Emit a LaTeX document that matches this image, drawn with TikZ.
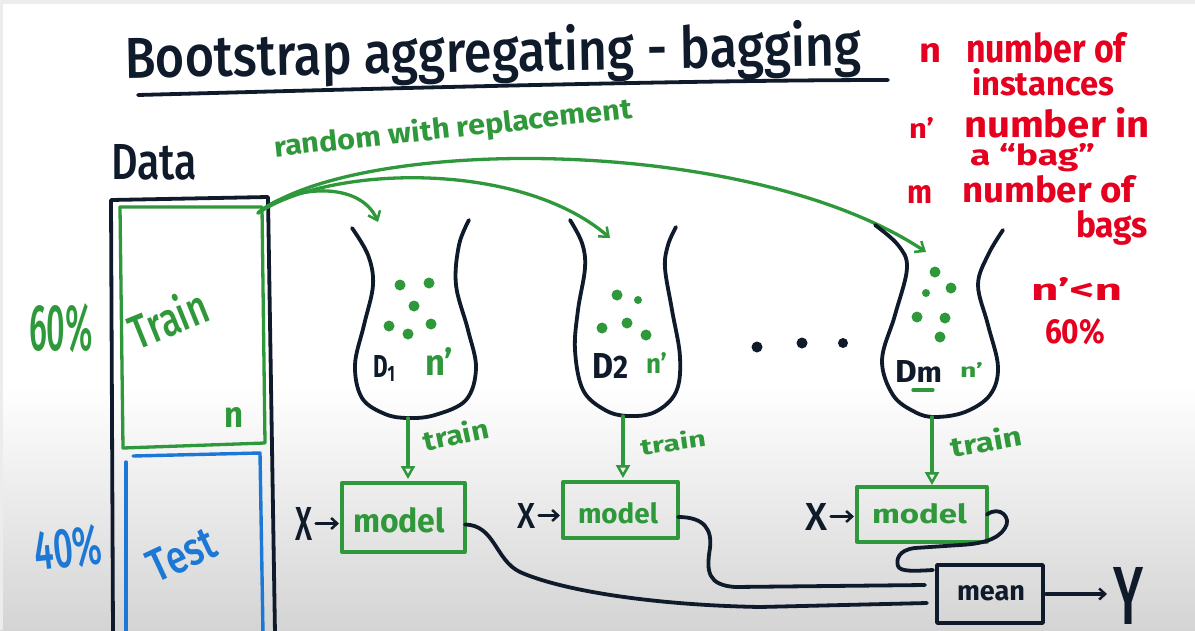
\documentclass[tikz,border=0pt]{standalone}
\usepackage{fontspec}
\setmainfont{Fira Sans}
\newfontfamily\firamed{Fira Sans Medium}
\usepackage{graphicx}
\usetikzlibrary{arrows.meta}
\definecolor{ink}{RGB}{15,26,43}
\definecolor{gink}{RGB}{47,152,58}
\definecolor{bink}{RGB}{28,120,212}
\definecolor{rink}{RGB}{228,0,30}
\definecolor{bggray}{RGB}{212,212,212}
\definecolor{edgegray}{RGB}{236,236,236}
\newcommand{\hw}[3]{\resizebox{#1pt}{#2pt}{#3}}
\begin{document}
\begin{tikzpicture}[x=1pt,y=-1pt,
  txt/.style={inner sep=0pt, outer sep=0pt, anchor=base west, font=\bfseries},
  ctxt/.style={inner sep=0pt, outer sep=0pt, font=\bfseries},
  big/.style={font=\firamed},
  inkline/.style={draw=ink, line width=3.8pt, line cap=round, line join=round},
  gline/.style={draw=gink, line width=3.3pt, line cap=round, line join=round},
  bline/.style={draw=bink, line width=3.4pt, line cap=round, line join=round},
  rbox/.style={inner sep=0pt, outer sep=0pt, line width=3.3pt, line join=round},
  garrow/.style={gline, -{Triangle[open, length=13pt, width=14pt, line width=2.5pt]}},
  sarrow/.style={gline, -{Straight Barb[length=8pt, width=13pt, line width=2.5pt]}},
  karrow/.style={inkline, line width=3.2pt, -{Straight Barb[length=6pt, width=11pt, line width=2.5pt]}},
  dot/.style={fill=gink}]
\useasboundingbox (0,0) rectangle (1195,630);
% background
\fill[white] (0,0) rectangle (1195,630);
\shade[top color=white, bottom color=bggray] (0,385) rectangle (1195,630);
\fill[edgegray] (0,0) rectangle (1195,4);
\fill[edgegray] (0,0) rectangle (3,630);

% title
\node[txt, big, text=ink, rotate=1] (title) at (125,78) {\hw{737}{46}{Bootstrap aggregating - bagging}};
\draw[inkline] (138,95) .. controls (400,88) and (700,80) .. (888,80);

% legend
\node[txt,text=rink] (ln) at (919,62) {\hw{22}{19}{n}};
\node[txt,text=rink] (lnd) at (966,62) {\hw{160}{30}{number of}};
\node[txt,text=rink] (lni) at (972,95) {\hw{142}{27}{instances}};
\node[txt,text=rink] (lnp) at (909,138) {\hw{25}{21}{n'}};
\node[txt,text=rink] (lnpd) at (964,137) {\hw{186}{30}{number in}};
\node[txt,text=rink] (lbag) at (970,165) {\hw{125}{22}{a “bag”}};
\node[txt,text=rink] (lm) at (907,203) {\hw{25}{18}{m}};
\node[txt,text=rink] (lmd) at (962,202) {\hw{173}{27}{number of}};
\node[txt,text=rink] (lbags) at (1076,237) {\hw{72}{27}{bags}};
\node[txt,text=rink] (lineq) at (1031,300) {\hw{91}{23}{n'<n}};
\node[txt,text=rink] (lpct) at (1045,343) {\hw{60}{25}{60\%}};

% data column
\node[txt,big,text=ink] (data) at (111,179) {\hw{86}{35}{Data}};
\draw[inkline] (113,634) -- (111,200) -- (268,197) -- (275,634);
\draw[gline] (120,207) -- (262,207) -- (265,443) -- (123,448) -- cycle;
\draw[bline] (126,634) -- (126,462);
\draw[bline] (133,456) -- (260,453) -- (263,634);
\node[ctxt,big,text=gink,rotate=22] (train) at (168,318) {\hw{80}{38}{Train}};
\node[txt,text=gink] (ntr) at (224,427) {\hw{19}{20}{n}};
\node[txt,big,text=gink] (p60) at (29,350) {\hw{64}{47}{60\%}};
\node[ctxt,big,text=bink,rotate=6] (p40) at (68,548) {\hw{68}{40}{40\%}};
\node[ctxt,big,text=bink,rotate=25] (test) at (182,555) {\hw{70}{32}{Test}};

% sampling
\node[txt,text=gink,rotate=6.2] (rwr) at (275,157) {\hw{360}{23}{random with replacement}};
\coordinate (src) at (258,213);
\coordinate (t1) at (378,222);
\coordinate (t2) at (610,238);
\coordinate (t3) at (926,252);
\draw[sarrow] (src) .. controls (290,185) and (360,180) .. (t1);
\draw[sarrow] (src) .. controls (330,165) and (520,160) .. (t2);
\draw[sarrow] (src) .. controls (360,135) and (750,135) .. (t3);

% bags
\draw[inkline] plot[smooth, tension=0.6] coordinates {(352,228) (368,255) (373,285) (364,325) (355,365) (362,398) (385,414) (408,418) (435,415) (466,400) (476,368) (468,330) (456,285) (459,245) (469,220)};
\draw[inkline] plot[smooth, tension=0.6] coordinates {(570,220) (582,243) (585,268) (578,310) (575,350) (583,390) (605,410) (628,416) (655,412) (676,392) (680,357) (672,310) (665,268) (668,245) (676,227)};
\draw[inkline] plot[smooth, tension=0.6] coordinates {(875,225) (898,245) (907,268) (895,315) (882,360) (893,395) (915,412) (935,417) (965,412) (990,395) (998,367) (988,325) (978,285) (988,255) (1003,230)};
\coordinate (b1bot) at (408,418);
\coordinate (b2bot) at (623,416);
\coordinate (b3bot) at (932,417);

% dots
\foreach \p in {(400,285),(429,283),(414,306),(389,326),(408,334),(431,324),
                (617,295),(602,328),(627,323),(646,335),
                (935,272),(951,288),(917,317),(945,318),(940,337)}
  \fill[dot] \p circle (5.5);
\fill[dot] (638,300) circle (4);
\fill[dot] (926,293) circle (4);

% bag labels
\node[txt,text=ink] (d1) at (373,377) {\hw{23}{22}{D\textsubscript{1}}};
\node[txt,text=gink] (n1) at (425,375) {\hw{28}{28}{n'}};
\node[txt,text=ink] (d2) at (592,378) {\hw{36}{25}{D{\small 2}}};
\node[txt,text=gink] (n2) at (646,373) {\hw{21}{21}{n'}};
\node[txt,text=ink] (d3) at (895,382) {\hw{47}{22}{D{\small m}}};
\draw[gline] (913,390) -- (933,390);
\node[txt,text=gink] (n3) at (960,377) {\hw{23}{15}{n'}};

% ellipsis
\fill[ink] (757,347) circle (5.5);
\fill[ink] (802,343) circle (5.5);
\fill[ink] (843,343) circle (5);

% model boxes
\node[rbox, draw=gink, minimum width=123pt, minimum height=69pt] (m1) at (403.5,517.5) {};
\node[rbox, draw=gink, minimum width=115pt, minimum height=56pt] (m2) at (620.5,510) {};
\node[rbox, draw=gink, minimum width=130pt, minimum height=55pt] (m3) at (922,514.5) {};
\node[txt,text=gink] (m1t) at (353,532) {\hw{92}{25}{model}};
\node[txt,text=gink] (m2t) at (578,523) {\hw{80}{21}{model}};
\node[txt,text=gink] (m3t) at (872,523) {\hw{95}{20}{model}};

% train arrows
\draw[garrow, shorten >=4pt] (b1bot) -- (b1bot |- m1.north);
\draw[garrow, shorten >=4pt] (b2bot) -- (b2bot |- m2.north);
\draw[garrow, shorten >=2pt] (b3bot) -- (b3bot |- m3.north);
\node[ctxt,text=gink,rotate=12] (tr1) at (456,434) {\hw{66}{22}{train}};
\node[ctxt,text=gink,rotate=8] (tr2) at (673,442) {\hw{66}{18}{train}};
\node[ctxt,text=gink,rotate=10] (tr3) at (986,441) {\hw{72}{22}{train}};

% X inputs
\node[txt,big,text=ink] (x1) at (295,540) {\hw{17}{33}{X}};
\node[txt,big,text=ink] (x2) at (517,528) {\hw{18}{25}{X}};
\node[txt,big,text=ink] (x3) at (805,530) {\hw{22}{27}{X}};
\draw[karrow, shorten <=4pt, shorten >=3pt] (x1.east) -- (x1.east -| m1.west);
\draw[karrow, shorten <=4pt, shorten >=3pt] (x2.east) -- (x2.east -| m2.west);
\draw[karrow, shorten <=4pt, shorten >=3pt] (x3.east) -- (x3.east -| m3.west);

% mean
\node[rbox, draw=ink, line width=3.8pt, minimum width=106pt, minimum height=58pt] (mean) at (990,594) {};
\node[txt,text=ink] (meant) at (957,600) {\hw{68}{15}{mean}};
\node[txt,big,text=ink] (yout) at (1113,624) {\hw{30}{57}{Y}};
\draw[karrow, shorten <=3pt, shorten >=6pt] (mean.east) -- (mean.east -| yout.west);

% aggregation curves
\coordinate (e1) at ([xshift=-10pt,yshift=-9pt]mean.west);
\coordinate (e2) at ([xshift=-12pt,yshift=9pt]mean.west);
\coordinate (e3) at ([xshift=-4pt,yshift=-5pt]mean.north west);
\draw[inkline] ([yshift=-7pt]m1.east) .. controls (495,525) and (495,560) .. (520,572)
   .. controls (560,590) and (650,605) .. (760,607) -- (e1);
\draw[inkline] ([yshift=-7pt]m2.east) .. controls (705,517) and (712,530) .. (710,548)
   .. controls (706,572) and (708,585) .. (735,587) -- (e2);
\draw[inkline] (m3.east) .. controls (1000,505) and (1012,518) .. (1005,528)
   .. controls (998,540) and (980,544) .. (960,545) -- (915,548)
   .. controls (898,550) and (896,560) .. (898,566)
   .. controls (900,572) and (915,571) .. (e3);
\end{tikzpicture}
\end{document}
